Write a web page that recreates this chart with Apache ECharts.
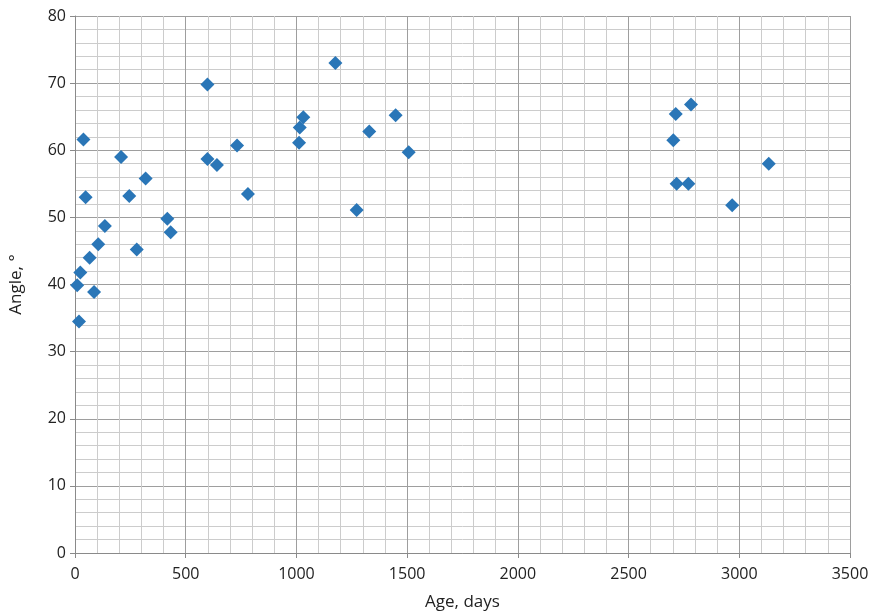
<!DOCTYPE html>
<html><head><meta charset="utf-8">
<script src="https://cdn.jsdelivr.net/npm/echarts@6/dist/echarts.min.js"></script>
<style>html,body{margin:0;padding:0;background:#fff}#c{width:869px;height:616px}</style>
</head><body><div id="c"></div>
<script>
var ages = [10,18,24,38,48,66,86,105,135,208,245,279,319,417,432,598,598,641,732,781,1012,1015,1031,1176,1272,1329,1448,1507,2702,2713,2717,2770,2782,2968,3133];
var angles = [39.9,34.5,41.8,61.6,53.0,44.0,38.9,46.0,48.7,59.0,53.2,45.2,55.8,49.8,47.8,69.8,58.7,57.8,60.7,53.5,61.1,63.4,64.9,73.0,51.1,62.8,65.2,59.7,61.5,65.4,55.0,55.0,66.8,51.8,58.0];
var xTitle = 'Age, days';
var yTitle = 'Angle, °';

var pts = ages.map(function(a,i){return [a, angles[i]];});
var chart = echarts.init(document.getElementById('c'));
chart.setOption({
  animation:false,
  grid:{left:75,right:19,top:16,bottom:63,containLabel:false,outerBoundsMode:'none'},
  xAxis:{
    type:'value',min:0,max:3500,interval:500,
    name:xTitle,nameLocation:'middle',nameGap:41,
    nameTextStyle:{fontFamily:'Open Sans',fontSize:17,color:'#222'},
    axisLine:{show:true,lineStyle:{color:'#8a8a8a',width:1}},
    axisTick:{show:true,length:5,lineStyle:{color:'#8a8a8a'}},
    axisLabel:{fontFamily:'Open Sans',fontSize:16,color:'#222',margin:13,formatter:function(v){return String(v);}},
    splitLine:{show:true,lineStyle:{color:'#9e9e9e',width:1}},
    minorTick:{show:true,splitNumber:5,length:0},
    minorSplitLine:{show:true,lineStyle:{color:'#cccccc',width:1}}
  },
  yAxis:{
    type:'value',min:0,max:80,interval:10,
    name:yTitle,nameLocation:'middle',nameGap:50,
    nameTextStyle:{fontFamily:'Open Sans',fontSize:17,color:'#222'},
    axisLine:{show:true,lineStyle:{color:'#8a8a8a',width:1}},
    axisTick:{show:true,length:5,lineStyle:{color:'#8a8a8a'}},
    axisLabel:{fontFamily:'Open Sans',fontSize:16,color:'#222',margin:9},
    splitLine:{show:true,lineStyle:{color:'#9e9e9e',width:1}},
    minorTick:{show:true,splitNumber:5,length:0},
    minorSplitLine:{show:true,lineStyle:{color:'#cccccc',width:1}}
  },
  series:[{
    type:'scatter',data:pts,symbol:'diamond',symbolSize:14,
    itemStyle:{color:'#2a76b7',opacity:1}
  }]
});
</script></body></html>
